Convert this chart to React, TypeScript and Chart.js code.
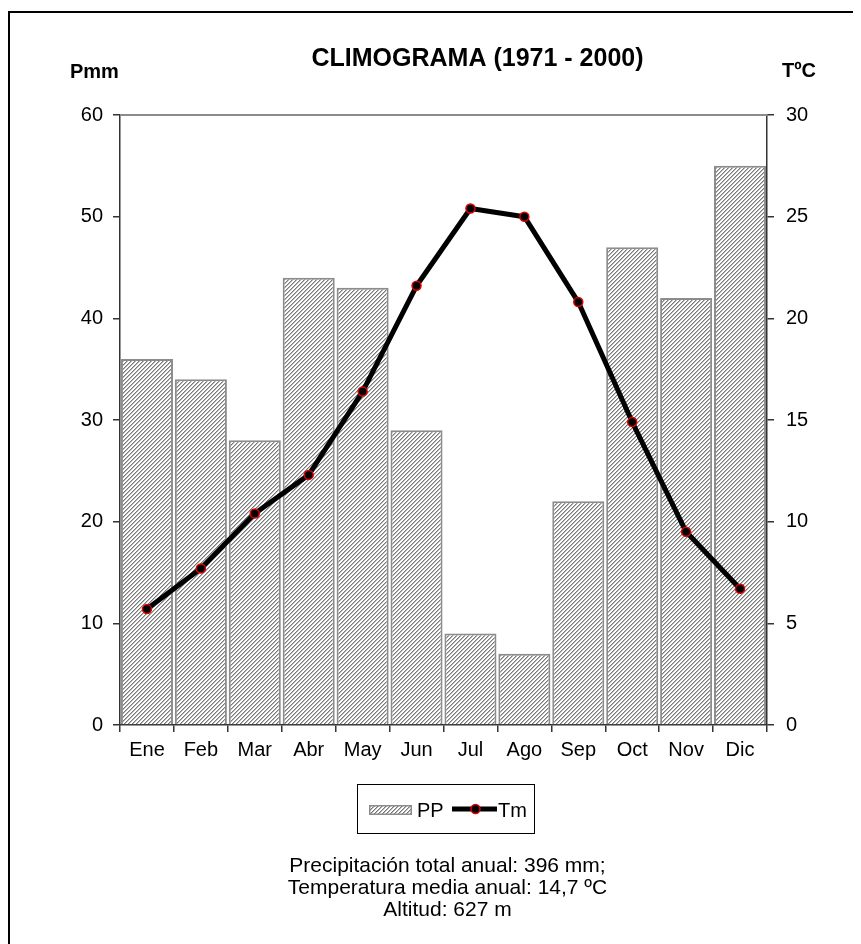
import React, { useEffect, useRef } from "react";
import { Chart, registerables } from "chart.js";

Chart.register(...registerables);

// ---- data ----
const months = ["Ene", "Feb", "Mar", "Abr", "May", "Jun", "Jul", "Ago", "Sep", "Oct", "Nov", "Dic"];
const precipitation = [36, 34, 28, 44, 43, 29, 9, 7, 22, 47, 42, 55];
const temperature = [5.7, 7.7, 10.4, 12.3, 16.4, 21.6, 25.4, 25.0, 20.8, 14.9, 9.5, 6.7];
const precipAxis = [0, 60, 10]; // min, max, step
const tempAxis = [0, 30, 5];
const titleText = "CLIMOGRAMA (1971 - 2000)";
const leftAxisTitle = "Pmm";
const rightAxisTitle = "TºC";
const legendLabels = ["PP", "Tm"];
const footnoteLines = [
  "Precipitación total anual: 396 mm;",
  "Temperatura media anual: 14,7 ºC",
  "Altitud: 627 m",
];

const FONT = "'Liberation Sans', Arial, Helvetica, sans-serif";
const W = 853;
const H = 936;

function makeHatch(): CanvasPattern | string {
  const pc = document.createElement("canvas");
  pc.width = 4;
  pc.height = 4;
  const pctx = pc.getContext("2d");
  if (!pctx) return "#ccc";
  const img = pctx.createImageData(4, 4);
  for (let y = 0; y < 4; y++) {
    for (let x = 0; x < 4; x++) {
      const d = (x + y) % 4;
      let v = 255;
      if (d === 3) v = 120;
      else if (d === 0) v = 185;
      const i = (y * 4 + x) * 4;
      img.data[i] = v;
      img.data[i + 1] = v;
      img.data[i + 2] = v;
      img.data[i + 3] = 255;
    }
  }
  pctx.putImageData(img, 0, 0);
  const p = pctx.createPattern(pc, "repeat");
  return p || "#ccc";
}

const decorPlugin = {
  id: "decor",
  beforeDraw(chart: any) {
    const ctx = chart.ctx as CanvasRenderingContext2D;
    ctx.save();
    ctx.fillStyle = "#fff";
    ctx.fillRect(0, 0, chart.width, chart.height);
    ctx.fillStyle = "#000";
    ctx.fillRect(0, 3, 2, chart.height);
    ctx.fillRect(0, 3, chart.width, 2);
    ctx.restore();
  },
  beforeDatasetsDraw(chart: any) {
    const ctx = chart.ctx as CanvasRenderingContext2D;
    const { left, right, top } = chart.chartArea;
    ctx.save();
    ctx.strokeStyle = "#8c8c8c";
    ctx.lineWidth = 2;
    ctx.beginPath();
    ctx.moveTo(left, top);
    ctx.lineTo(right, top);
    ctx.stroke();
    ctx.restore();
  },
  afterDraw(chart: any) {
    const ctx = chart.ctx as CanvasRenderingContext2D;
    const { left, right, top, bottom } = chart.chartArea;
    const mid = (left + right) / 2;
    ctx.save();
    ctx.fillStyle = "#000";
    ctx.textBaseline = "alphabetic";

    // title
    ctx.font = `bold 25px ${FONT}`;
    ctx.textAlign = "center";
    ctx.fillText(titleText, mid + 34, top - 49);

    // axis titles
    ctx.font = `bold 20px ${FONT}`;
    ctx.textAlign = "left";
    ctx.fillText(leftAxisTitle, left - 50, top - 37);
    ctx.fillText(rightAxisTitle, right + 15, top - 38);

    // legend box
    const bx = left + 237;
    const by = bottom + 59;
    ctx.strokeStyle = "#000";
    ctx.lineWidth = 1;
    ctx.strokeRect(bx + 0.5, by + 0.5, 177, 49);

    const barDs = chart.data.datasets[1];
    const lineDs = chart.data.datasets[0];
    // PP swatch
    const sx = bx + 12;
    const sy = by + 21;
    ctx.fillStyle = barDs.backgroundColor;
    ctx.fillRect(sx, sy, 43, 10);
    ctx.strokeStyle = barDs.borderColor;
    ctx.lineWidth = 1.5;
    ctx.strokeRect(sx + 0.75, sy + 0.75, 41.5, 8.5);
    ctx.fillStyle = "#000";
    ctx.font = `20px ${FONT}`;
    ctx.fillText(legendLabels[0], bx + 60, by + 33);

    // Tm sample
    const ly = by + 25;
    ctx.strokeStyle = lineDs.borderColor;
    ctx.lineWidth = lineDs.borderWidth;
    ctx.beginPath();
    ctx.moveTo(bx + 95, ly);
    ctx.lineTo(bx + 140, ly);
    ctx.stroke();
    ctx.beginPath();
    ctx.arc(bx + 118.5, ly, lineDs.pointRadius, 0, Math.PI * 2);
    ctx.fillStyle = lineDs.pointBackgroundColor;
    ctx.fill();
    ctx.lineWidth = lineDs.pointBorderWidth;
    ctx.strokeStyle = lineDs.pointBorderColor;
    ctx.stroke();
    ctx.fillStyle = "#000";
    ctx.fillText(legendLabels[1], bx + 141, by + 33);

    // footnote
    ctx.textAlign = "center";
    ctx.font = `21px ${FONT}`;
    footnoteLines.forEach((t, i) => {
      ctx.fillText(t, mid + 4, bottom + 147 + i * 22);
    });
    ctx.restore();
  },
};

export default function App() {
  const ref = useRef<HTMLCanvasElement | null>(null);

  useEffect(() => {
    document.documentElement.style.overflow = "hidden";
    document.body.style.overflow = "hidden";
    const canvas = ref.current;
    if (!canvas) return;
    const hatch = makeHatch();
    const tickFont = { family: FONT, size: 20 };

    const chart = new Chart(canvas, {
      type: "bar",
      data: {
        labels: months,
        datasets: [
          {
            type: "line",
            label: legendLabels[1],
            data: temperature,
            yAxisID: "y1",
            order: 1,
            borderColor: "#000",
            borderWidth: 5,
            borderJoinStyle: "round",
            tension: 0,
            pointRadius: 4.5,
            pointBackgroundColor: "#000",
            pointBorderColor: "#e00000",
            pointBorderWidth: 1.5,
            fill: false,
          } as any,
          {
            type: "bar",
            label: legendLabels[0],
            data: precipitation,
            yAxisID: "y",
            order: 2,
            backgroundColor: hatch,
            borderColor: "#8c8c8c",
            borderWidth: 2,
            barPercentage: 0.965,
            categoryPercentage: 1,
          } as any,
        ],
      },
      options: {
        responsive: false,
        animation: false,
        devicePixelRatio: 1,
        layout: { padding: { top: 107, left: 0, right: 0, bottom: 179 } },
        plugins: {
          legend: { display: false },
          title: { display: false },
          tooltip: { enabled: false },
        },
        scales: {
          x: {
            offset: true,
            grid: {
              display: true,
              drawOnChartArea: false,
              drawTicks: true,
              tickLength: 7,
              color: "#333",
              lineWidth: 1.5,
              offset: true,
            },
            border: { display: true, color: "#333", width: 1.5 },
            ticks: { font: tickFont, color: "#000", padding: 6, maxRotation: 0 },
            afterFit: (s: any) => {
              s.height = 40;
            },
          },
          y: {
            position: "left",
            min: precipAxis[0],
            max: precipAxis[1],
            grid: {
              drawOnChartArea: false,
              drawTicks: true,
              tickLength: 7,
              color: "#333",
              lineWidth: 1.5,
            },
            border: { display: true, color: "#333", width: 1.5 },
            ticks: { stepSize: precipAxis[2], font: tickFont, color: "#000", padding: 10 },
            afterFit: (s: any) => {
              s.width = 112;
            },
          },
          y1: {
            position: "right",
            min: tempAxis[0],
            max: tempAxis[1],
            grid: {
              drawOnChartArea: false,
              drawTicks: true,
              tickLength: 7,
              color: "#333",
              lineWidth: 1.5,
            },
            border: { display: true, color: "#333", width: 1.5 },
            ticks: { stepSize: tempAxis[2], font: tickFont, color: "#000", padding: 12 },
            afterFit: (s: any) => {
              s.width = 94;
            },
          },
        },
      } as any,
      plugins: [decorPlugin],
    });
    return () => chart.destroy();
  }, []);

  return (
    <div style={{ position: "relative", width: W, height: H }}>
      <canvas
        ref={ref}
        width={W}
        height={H}
        style={{ display: "block", width: W, height: H }}
      />
    </div>
  );
}
